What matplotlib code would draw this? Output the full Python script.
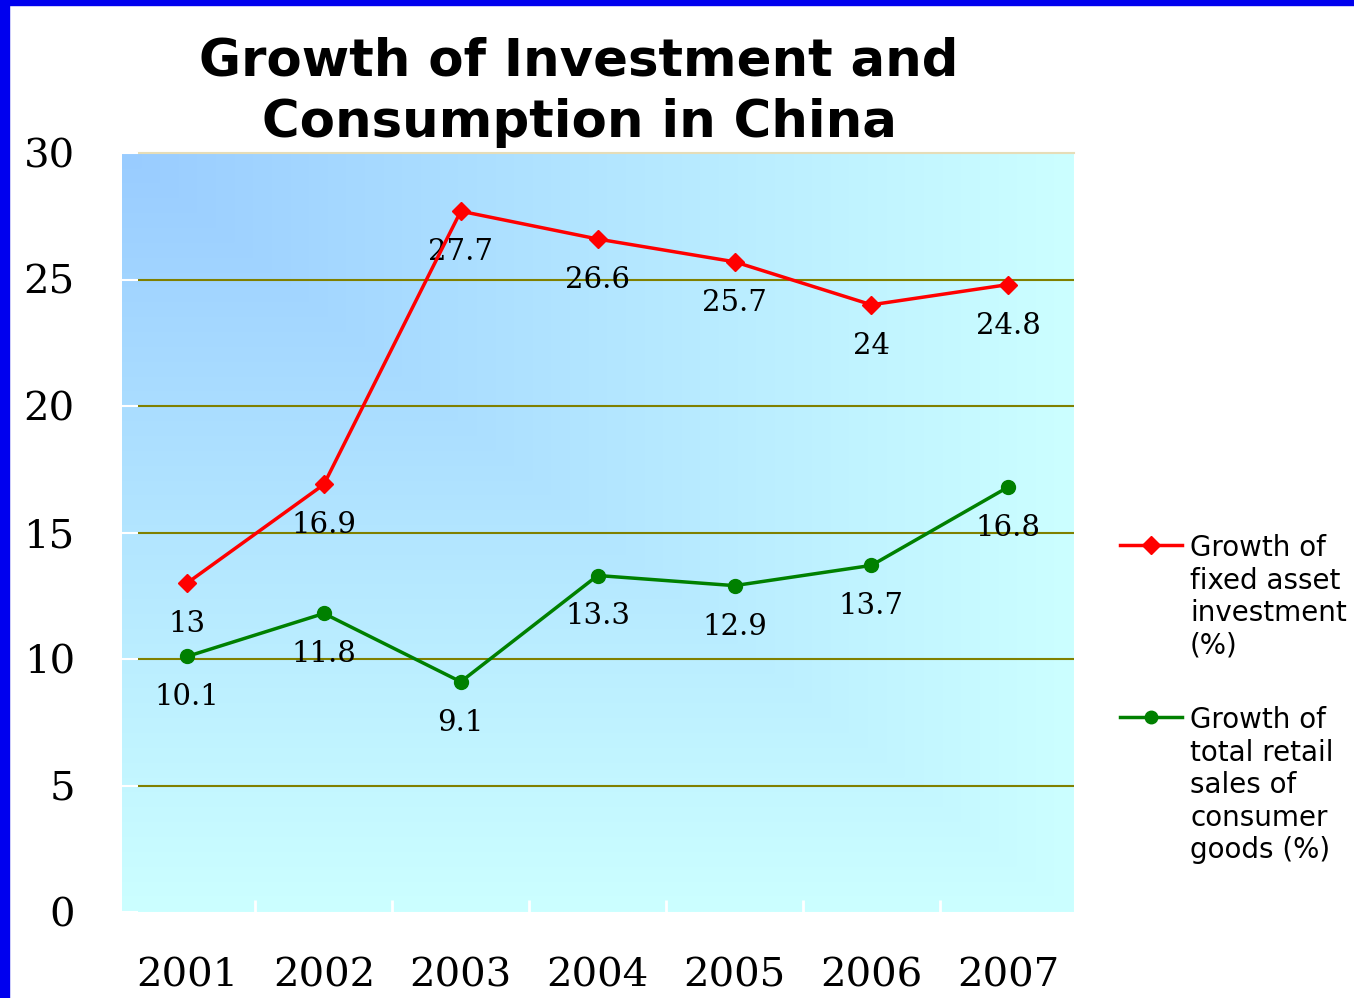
"""
Growth of Investment and Consumption in China (2001-2007)
Line chart with gradient plot area, value labels and side legend.
Output: out.png
"""

import numpy as np
import matplotlib
matplotlib.use("Agg")
import matplotlib.pyplot as plt
from matplotlib.lines import Line2D
from matplotlib.patches import Rectangle

# ─── Data ─────────────────────────────────────────────────────────────────────
YEARS        = ["2001", "2002", "2003", "2004", "2005", "2006", "2007"]
FIXED_ASSET  = [13, 16.9, 27.7, 26.6, 25.7, 24, 24.8]
RETAIL_SALES = [10.1, 11.8, 9.1, 13.3, 12.9, 13.7, 16.8]
Y_TICKS      = [0, 5, 10, 15, 20, 25, 30]

TITLE        = "Growth of Investment and\nConsumption in China"
LABEL_FIXED  = "Growth of\nfixed asset\ninvestment\n(%)"
LABEL_RETAIL = "Growth of\ntotal retail\nsales of\nconsumer\ngoods (%)"

# ─── Style ────────────────────────────────────────────────────────────────────
W, H       = 1354, 998
RED        = "#FF0000"
GREEN      = "#008000"
GRID_COLOR = "#808000"
BORDER     = "#0000EE"
SERIF      = "DejaVu Serif"
SANS       = "DejaVu Sans"


def px_x(v):
    return v / W


def px_y(v):
    return 1 - v / H


fig = plt.figure(figsize=(W / 100, H / 100), dpi=100)
fig.patch.set_facecolor("white")

# blue frame strips (left and top)
fig.add_artist(Rectangle((0, 0), px_x(9), 1, transform=fig.transFigure,
                         color=BORDER, zorder=10))
fig.add_artist(Rectangle((0, px_y(5)), 1, 5 / H, transform=fig.transFigure,
                         color=BORDER, zorder=10))

ax = fig.add_axes([px_x(122), px_y(912), (1074 - 122) / W, (912 - 153) / H])
x = np.arange(len(YEARS))
XLIM = (-0.475, 6.48)
YLIM = (0, 30)

# ── gradient background (from top-left corner) ───────────────────────────────
gx, gy = np.meshgrid(np.linspace(0, 1, 500), np.linspace(0, 1, 500))
t = np.maximum(gx, gy)[..., None]
c0 = np.array([153, 204, 255]) / 255
c1 = np.array([204, 255, 255]) / 255
ax.imshow(c0 + t * (c1 - c0), extent=(*XLIM, *YLIM), aspect="auto",
          origin="upper", zorder=0, interpolation="bilinear")
ax.set_xlim(*XLIM)
ax.set_ylim(*YLIM)

# ── gridlines ────────────────────────────────────────────────────────────────
grid_start = (138 - 122) / (1074 - 122)
for v in Y_TICKS[1:-1]:
    ax.axhline(v, xmin=grid_start, xmax=1, color=GRID_COLOR, lw=1.5, zorder=1)
ax.axhline(Y_TICKS[-1], xmin=grid_start, xmax=1, color="#E6DDB8", lw=1.5,
           zorder=1, clip_on=False)

# ── series ───────────────────────────────────────────────────────────────────
ax.plot(x, FIXED_ASSET, color=RED, lw=2.5, marker="D", ms=9, zorder=4,
        clip_on=False)
ax.plot(x, RETAIL_SALES, color=GREEN, lw=2.5, marker="o", ms=10, zorder=4,
        clip_on=False)

for series in (FIXED_ASSET, RETAIL_SALES):
    for xi, v in zip(x, series):
        ax.annotate(f"{v:g}", (xi, v), xytext=(0, -29.5),
                    textcoords="offset points", ha="center", va="center",
                    fontsize=21, family=SERIF, color="black", zorder=3)

# ── axes formatting ──────────────────────────────────────────────────────────
for s in ax.spines.values():
    s.set_visible(False)

ax.set_yticks(Y_TICKS)
ax.set_yticklabels([str(v) for v in Y_TICKS], fontsize=29, family=SERIF)
ax.tick_params(axis="y", direction="in", length=11.5, width=1.5,
               color="white", pad=34)

ax.set_xticks(x)
ax.set_xticklabels(YEARS, fontsize=29, family=SERIF)
ax.tick_params(axis="x", which="major", length=0, pad=33)
ax.set_xticks(x[:-1] + 0.5, minor=True)
ax.tick_params(axis="x", which="minor", direction="in", length=9, width=2,
               color="white")

# ── title ────────────────────────────────────────────────────────────────────
fig.text(px_x(579), px_y(37), TITLE, ha="center", va="top", fontsize=37,
         fontweight="bold", family=SANS, linespacing=1.28)

# ── legend (drawn by hand so the key sits on the first text line) ─────────────
for color, marker, ms, label, y_mid in [
        (RED, "D", 9, LABEL_FIXED, 545),
        (GREEN, "o", 9, LABEL_RETAIL, 717)]:
    fig.add_artist(Line2D([px_x(1120), px_x(1182)], [px_y(y_mid)] * 2,
                          transform=fig.transFigure, color=color, lw=2.5))
    fig.add_artist(Line2D([px_x(1151)], [px_y(y_mid)], transform=fig.transFigure,
                          color=color, marker=marker, ms=ms, lw=0))
    fig.text(px_x(1190), px_y(y_mid - 10.5), label, ha="left", va="top",
             fontsize=20, family=SANS, linespacing=1.20)

fig.savefig("out.png", dpi=100)
